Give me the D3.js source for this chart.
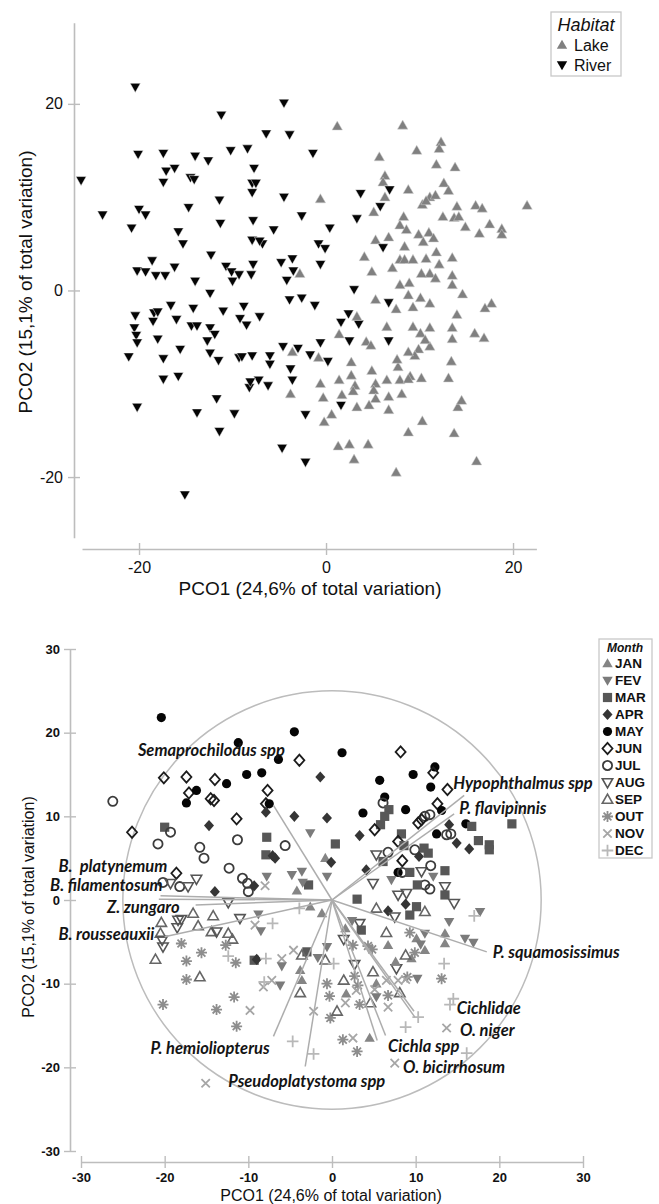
<!DOCTYPE html>
<html><head><meta charset="utf-8">
<script src="https://cdn.jsdelivr.net/npm/d3@7"></script>
<style>body{margin:0;background:#fff}svg{display:block}</style>
</head><body>
<svg id="c" width="659" height="1204"></svg>
<script>
// ---------------- DATA (same samples in both ordinations) ----------------
const pco1 = [
-20.4,-11.2,-4.5,-6.4,-3.9,-1.4,-20.1,-17.4,-14.0,-12.6,
-10.2,-8.4,-17.1,-16.2,-17.4,-14.5,-14.1,-7.7,-7.9,-7.5,
-7.9,-4.5,-0.6,-26.2,-23.9,-20.0,-19.3,-14.7,-11.4,-20.8,
-15.8,-15.3,-11.3,-5.6,-7.8,-7.9,-6.8,-2.6,-18.6,-20.2,
-19.3,-18.2,-17.2,-16.2,-12.3,-10.7,-10.1,-10.0,-9.3,-8.0,
-7.8,-14.0,-12.4,-4.2,-2.8,-4.8,-3.6,-0.8,-0.1,-0.6,
0.4,-7.1,-3.5,1.2,8.2,12.3,12.1,9.7,5.7,11.8,
13.8,6.3,6.1,6.8,3.7,8.8,12.6,13.1,10.3,11.1,
11.7,10.7,6.3,5.8,5.1,3.3,8.3,14.0,16.0,16.7,
12.5,13.7,14.2,21.5,14.9,17.5,16.4,18.8,18.8,5.3,
6.7,6.1,7.9,9.9,11.0,10.4,11.5,8.4,4.1,4.9,
7.9,8.4,7.1,9.3,10.7,11.8,12.1,13.5,11.1,11.7,
13.5,10.2,8.9,3.0,8.6,13.5,14.6,7.9,-16.6,-14.2,
-20.4,-18.4,-18.0,-18.5,-16.0,-11.0,-8.8,-9.2,-8.5,-7.1,
-20.5,-20.3,-20.2,-21.1,-18.0,-15.6,-17.4,-17.4,-15.8,-14.4,
-13.8,-12.4,-11.9,-12.7,-11.5,-12.4,-9.3,-9.0,-7.9,-6.0,
-6.0,-7.2,-8.2,-6.2,-4.6,-3.0,-3.6,-3.8,-3.6,-3.8,
-0.6,-0.8,-20.2,-13.8,-11.7,-9.8,-11.4,-4.7,-2.2,-15.1,
-0.6,-0.3,-2.2,-0.2,-3.9,-2.6,-1.2,-1.7,-8.1,5.3,
6.7,7.5,8.8,10.1,9.3,3.5,3.3,1.6,1.4,6.5,
6.7,9.3,10.1,11.1,11.1,13.5,13.5,15.9,16.9,17.7,
17.0,9.9,7.7,9.0,10.2,13.1,13.4,9.5,1.4,2.7,
3.1,4.9,5.3,6.5,7.9,8.8,5.1,6.7,8.1,1.7,
2.9,5.3,4.6,3.3,1.6,0.6,6.7,10.3,8.8,13.7,
14.1,14.5,1.3,2.5,4.5,3.0,16.1,7.5,0.2,2.7,
11.1,2.4,4.3,4.8,2.5,14.0,10.6,7.6,8.8];
const pco2 = [
21.8,18.8,20.1,16.8,16.7,14.7,14.6,14.7,14.4,13.9,
15.0,15.2,12.8,13.1,11.6,12.1,11.9,13.1,11.5,11.5,
10.5,10.0,9.8,11.8,8.1,8.7,8.1,8.9,9.7,6.7,
6.3,5.0,7.2,6.5,7.5,5.4,5.0,8.0,3.2,2.1,
2.0,1.6,1.6,2.5,3.8,2.6,2.0,1.0,1.7,1.7,
2.8,1.0,-0.3,1.1,1.8,3.0,3.4,5.0,4.5,2.8,
6.7,5.3,2.1,17.6,17.7,15.9,15.2,15.0,14.3,13.5,
13.2,12.3,11.6,10.8,10.4,10.8,11.5,10.7,9.2,10.0,
10.2,9.6,10.0,9.0,8.4,7.7,7.9,9.0,9.1,8.8,
7.9,7.8,7.9,9.1,6.8,7.1,6.1,6.6,6.0,5.4,
5.7,4.6,7.0,6.0,6.2,5.2,5.6,4.7,3.6,2.0,
3.3,3.3,2.4,3.3,3.4,4.1,2.8,3.5,1.8,1.3,
1.6,1.8,0.8,0.1,6.5,0.6,-0.4,0.6,-1.6,-1.9,
-2.7,-2.4,-2.3,-3.3,-3.1,-2.2,-1.7,-3.0,-3.7,-2.8,
-4.0,-4.8,-5.6,-7.1,-5.2,-6.3,-7.3,-9.5,-9.2,-3.8,
-3.8,-4.0,-4.7,-5.4,-7.5,-6.7,-7.2,-7.1,-7.0,-7.0,
-7.9,-9.6,-10.4,-10.2,-6.0,-6.2,-6.6,-8.4,-9.6,-11.1,
-5.6,-7.2,-12.5,-13.1,-11.6,-13.2,-15.1,-16.9,-18.4,-21.9,
-10.0,-11.5,-13.3,-14.1,-1.0,-0.8,-1.6,-6.9,-9.8,-1.0,
-1.3,-2.0,-0.5,-0.8,-1.8,-3.6,-2.8,-3.4,-4.7,-3.9,
-5.4,-3.9,-4.6,-6.0,-4.0,-4.0,-5.2,-4.6,-5.1,-1.4,
-1.9,-6.3,-8.2,-9.2,-9.4,-9.4,-7.6,-7.0,-9.6,-9.1,
-10.2,-8.6,-10.0,-9.6,-9.6,-9.5,-10.7,-11.4,-11.1,-11.2,
-10.8,-11.6,-12.3,-12.5,-12.3,-13.3,-12.8,-14.0,-15.2,-15.3,
-12.5,-11.8,-16.7,-16.5,-16.5,-18.1,-18.3,-19.5,-7.6,-7.7,
-1.4,-2.5,-5.5,-5.9,-5.4,-2.6,-5.3,-7.4,-6.6];
const month = [
"MAY","MAY","MAY","MAY","JUN","APR","JUN","JUN","JUN","MAY",
"MAY","MAY","JUN","MAY","MAY","JUN","JUN","JUN","JUN","MAY",
"APR","APR","APR","JUL","JUN","MAR","JUL","APR","JUN","JUL",
"JUL","JUL","JUL","JUL","MAR","MAR","APR","FEV","JUN","JUL",
"AUG","JUL","AUG","AUG","JUL","JUL","JUL","JUL","APR","NOV",
"FEV","APR","AUG","JAN","MAR","FEV","FEV","JAN","APR","FEV",
"MAR","APR","FEV","MAY","JUN","MAY","JUN","MAY","MAY","MAY",
"JUN","MAY","JUL","MAR","MAY","MAY","JUN","MAY","JUN","JUL",
"JUL","JUN","MAR","MAR","JUN","APR","MAR","APR","MAY","MAR",
"MAY","JUL","JUL","MAR","APR","MAR","APR","MAR","MAR","AUG",
"JUL","MAR","JUN","JUL","MAR","APR","MAR","JUN","APR","AUG",
"MAY","JUL","FEV","MAR","AUG","JUL","FEV","MAR","JUL","JUL",
"AUG","MAR","AUG","MAR","MAR","MAR","AUG","AUG","SEP","SEP",
"SEP","AUG","AUG","AUG","SEP","AUG","FEV","NOV","FEV","DEC",
"SEP","AUG","AUG","SEP","OUT","OUT","OUT","OUT","SEP","SEP",
"AUG","SEP","SEP","OUT","OUT","DEC","MAR","APR","DEC","NOV",
"FEV","NOV","NOV","FEV","NOV","MAR","SEP","JAN","JAN","SEP",
"FEV","SEP","OUT","OUT","OUT","NOV","OUT","DEC","DEC","NOV",
"OUT","OUT","NOV","OUT","DEC","JAN","JAN","FEV","DEC","SEP",
"APR","AUG","APR","MAR","MAR","MAR","AUG","JAN","AUG","SEP",
"JAN","OUT","JAN","JAN","FEV","JAN","JAN","FEV","FEV","FEV",
"DEC","OUT","AUG","OUT","FEV","OUT","DEC","JAN","SEP","OUT",
"OUT","SEP","JAN","NOV","NOV","NOV","NOV","OUT","SEP","JAN",
"NOV","FEV","SEP","OUT","NOV","SEP","NOV","DEC","DEC","NOV",
"DEC","DEC","OUT","NOV","JAN","OUT","DEC","NOV","DEC","AUG",
"SEP","FEV","OUT","OUT","OUT","FEV","FEV","JAN","SEP"];
const habitat = [
"R","R","R","R","R","R","R","R","R","R",
"R","R","R","R","R","R","R","R","R","R",
"R","R","L","R","R","R","R","R","R","R",
"R","R","R","R","R","R","R","R","R","R",
"R","R","R","R","R","R","R","R","R","R",
"R","R","R","R","L","R","R","R","R","R",
"R","R","R","L","L","L","L","L","L","L",
"L","L","L","R","R","L","L","L","L","L",
"L","L","L","R","L","R","L","L","L","L",
"L","L","L","L","L","L","L","L","L","L",
"L","R","L","L","L","L","L","L","L","L",
"L","L","L","L","L","L","L","L","L","L",
"L","L","L","R","L","L","L","L","R","R",
"R","R","R","R","R","R","R","R","R","R",
"R","R","R","R","R","R","R","R","R","R",
"R","R","R","R","R","R","R","R","R","R",
"R","R","R","R","R","R","L","R","R","L",
"R","L","R","R","R","R","R","R","R","R",
"L","L","R","L","R","R","R","R","R","L",
"R","L","L","L","L","R","L","R","L","L",
"R","L","L","L","L","L","L","L","L","L",
"L","L","L","L","L","L","L","L","L","L",
"L","L","L","L","L","L","L","L","L","L",
"L","L","L","L","R","L","L","L","L","L",
"L","L","L","L","L","L","L","L","R","L",
"L","R","L","L","R","L","L","L","L"];

const habitatNames = ["Lake","River"];
const habitatCodes = ["L","R"];
const monthNames = ["JAN","FEV","MAR","APR","MAY","JUN","JUL","AUG","SEP","OUT","NOV","DEC"];

const species = ["Semaprochilodus spp","Hypophthalmus spp","P. flavipinnis","B.  platynemum","B. filamentosum","Z. zungaro","B. rousseauxii","P. squamosissimus","Cichlidae","O. niger","Cichla spp","O. bicirrhosum","P. hemioliopterus","Pseudoplatystoma spp"];
const vecX = [-7.0,15.8,14.6,-20.5,-20.7,-16.3,-20.0,18.5,9.8,9.9,6.4,5.4,-7.0,-3.2];
const vecY = [11.3,12.5,10.3,0.5,0.1,-0.6,-4.4,-6.2,-13.3,-14.0,-16.2,-16.8,-16.3,-19.9];
const labelX = [-23.2,14.5,15.2,-32.7,-33.7,-26.9,-32.7,19.2,14.9,15.3,6.7,8.5,-21.7,-12.4];
const labelY = [17.2,13.3,10.3,3.3,1.1,-1.55,-4.8,-6.9,-13.6,-16.2,-18.2,-20.7,-18.4,-22.3];
const circleRadius = 25;

const topTicks = [-20,0,20];
const botTicks = [-30,-20,-10,0,10,20,30];

// ---------------- DRAWING ----------------
const svg = d3.select("#c");
const AX = "#bdbdbd";
const SANS = "'Liberation Sans', Arial, sans-serif";
const N = Math.min(pco1.length, pco2.length, month.length, habitat.length);
const idx = d3.range(N);
const fmt = d => String(d);   // plain hyphen minus, as in the original

function shapePath(t){
  switch(t){
    case "triUp": return "M0,-5.3L5.2,3.8L-5.2,3.8Z";
    case "triDown": return "M0,5.3L5.2,-3.8L-5.2,-3.8Z";
    case "square": return "M-4.6,-4.6H4.6V4.6H-4.6Z";
    case "diamond": return "M0,-5.6L5,0L0,5.6L-5,0Z";
    case "circle": return "M4.6,0A4.6,4.6 0 1,1 -4.6,0A4.6,4.6 0 1,1 4.6,0Z";
    case "ast": return "M0,-5.5V5.5M-5.5,0H5.5M-3.9,-3.9L3.9,3.9M-3.9,3.9L3.9,-3.9";
    case "times": return "M-4.2,-4.2L4.2,4.2M-4.2,4.2L4.2,-4.2";
    case "plus": return "M-5.8,0H5.8M0,-5.8V5.8";
  }
}
const monthStyle = {
  JAN:{s:"triUp", fill:"#858585", stroke:"none"},
  FEV:{s:"triDown", fill:"#7b7b7b", stroke:"none"},
  MAR:{s:"square", fill:"#575757", stroke:"none"},
  APR:{s:"diamond", fill:"#353535", stroke:"none"},
  MAY:{s:"circle", fill:"#050505", stroke:"none"},
  JUN:{s:"diamond", fill:"none", stroke:"#1c1c1c", w:1.8},
  JUL:{s:"circle", fill:"none", stroke:"#3c3c3c", w:1.8},
  AUG:{s:"triDown", fill:"none", stroke:"#555", w:1.6},
  SEP:{s:"triUp", fill:"none", stroke:"#666", w:1.6},
  OUT:{s:"ast", fill:"none", stroke:"#8d8d8d", w:1.8},
  NOV:{s:"times", fill:"none", stroke:"#a6a6a6", w:1.8},
  DEC:{s:"plus", fill:"none", stroke:"#b8b8b8", w:1.8}
};
const habStyle = {L:{s:"triUp", fill:"#808080"}, R:{s:"triDown", fill:"#050505"}};

function styleAxis(g, dir){
  g.select(".domain").attr("stroke", AX).attr("stroke-width", 1.6);
  g.selectAll(".tick line").attr("stroke", AX).attr("stroke-width", 1.4);
  if(dir==="b") g.selectAll(".tick line").attr("y1",-6).attr("y2",6);
  else g.selectAll(".tick line").attr("x1",6).attr("x2",-6);
}

// ---- TOP PANEL ----
const xT = d3.scaleLinear().domain([-26.1,22.5]).range([82,536.4]);
const yT = d3.scaleLinear().domain([-26.5,28.7]).range([537.7,22.7]);
const gTop = svg.append("g");

const gxT = gTop.append("g").attr("transform","translate(0,549)")
  .call(d3.axisBottom(xT).tickValues(topTicks).tickSize(6).tickSizeOuter(0).tickFormat(fmt));
styleAxis(gxT,"b");
gxT.selectAll(".tick text").attr("y",24).attr("dy",null).attr("font-size",16).attr("font-family",SANS).attr("fill","#111");

const gyT = gTop.append("g").attr("transform","translate(74,0)")
  .call(d3.axisLeft(yT).tickValues(topTicks).tickSize(6).tickSizeOuter(0).tickFormat(fmt));
styleAxis(gyT,"l");
gyT.selectAll(".tick text").attr("x",-11).attr("font-size",16).attr("font-family",SANS).attr("fill","#111");

gTop.append("g").selectAll("path").data(idx).join("path")
  .attr("transform", i=>`translate(${xT(pco1[i])},${yT(pco2[i])})`)
  .attr("d", i=>shapePath(habStyle[habitat[i]].s))
  .attr("fill", i=>habStyle[habitat[i]].fill)
  .attr("stroke", i=> habitat[i]==="L" ? "#d0d0d0" : "#fff").attr("stroke-width",0.5);

gTop.append("text").attr("x",310).attr("y",595).attr("text-anchor","middle")
  .attr("font-family",SANS).attr("font-size",19).attr("fill","#111")
  .text("PCO1 (24,6% of total variation)");
gTop.append("text").attr("transform","translate(32,282) rotate(-90)").attr("text-anchor","middle")
  .attr("font-family",SANS).attr("font-size",19).attr("fill","#111")
  .text("PCO2 (15,1% of total variation)");

// top legend
const lgT = gTop.append("g");
lgT.append("rect").attr("x",551).attr("y",12).attr("width",70).attr("height",64)
  .attr("fill","#fff").attr("stroke","#c8c8c8").attr("stroke-width",1.3);
lgT.append("text").attr("x",586).attr("y",30.5).attr("text-anchor","middle")
  .attr("font-family",SANS).attr("font-style","italic").attr("font-size",18).attr("fill","#111").text("Habitat");
habitatCodes.forEach((h,k)=>{
  const cy = 45 + 20*k;
  lgT.append("path").attr("transform",`translate(562,${cy})`).attr("d",shapePath(habStyle[h].s)).attr("fill",habStyle[h].fill);
  lgT.append("text").attr("x",574).attr("y",cy+5.8).attr("font-family",SANS).attr("font-size",16).attr("fill","#111").text(habitatNames[k]);
});

// ---- BOTTOM PANEL ----
const xB = d3.scaleLinear().domain([-30,30]).range([81,583]);
const yB = d3.scaleLinear().domain([-30,30]).range([1151,649]);
const gBot = svg.append("g");

const gxB = gBot.append("g").attr("transform","translate(0,1162)")
  .call(d3.axisBottom(xB).tickValues(botTicks).tickSize(6).tickSizeOuter(0).tickFormat(fmt));
styleAxis(gxB,"b");
gxB.selectAll(".tick text").attr("y",20).attr("dy",null).attr("font-size",13).attr("font-weight","bold").attr("font-family",SANS).attr("fill","#111");
const gyB = gBot.append("g").attr("transform","translate(70,0)")
  .call(d3.axisLeft(yB).tickValues(botTicks).tickSize(6).tickSizeOuter(0).tickFormat(fmt));
styleAxis(gyB,"l");
gyB.selectAll(".tick text").attr("x",-10).attr("font-size",13).attr("font-weight","bold").attr("font-family",SANS).attr("fill","#111");

gBot.append("circle").attr("cx",xB(0)).attr("cy",yB(0)).attr("r",xB(circleRadius)-xB(0))
  .attr("fill","none").attr("stroke","#bcbcbc").attr("stroke-width",1.5);

gBot.append("g").selectAll("path").data(idx).join("path")
  .attr("transform", i=>`translate(${xB(pco1[i])},${yB(pco2[i])})`)
  .attr("d", i=>shapePath(monthStyle[month[i]].s))
  .attr("fill", i=>monthStyle[month[i]].fill)
  .attr("stroke", i=>monthStyle[month[i]].stroke)
  .attr("stroke-width", i=>monthStyle[month[i]].w||0);

gBot.append("g").selectAll("line").data(species).join("line")
  .attr("x1",xB(0)).attr("y1",yB(0))
  .attr("x2",(d,i)=>xB(vecX[i])).attr("y2",(d,i)=>yB(vecY[i]))
  .attr("stroke","#adadad").attr("stroke-width",1.5);

gBot.append("g").selectAll("text").data(species).join("text")
  .attr("x",(d,i)=>xB(labelX[i])).attr("y",(d,i)=>yB(labelY[i]))
  .attr("font-family","Lato, 'Open Sans', sans-serif").attr("font-style","italic").attr("font-weight",700)
  .attr("font-size",16.5).attr("fill","#141414").style("white-space","pre")
  .text(d=>d);

gBot.append("text").attr("x",331).attr("y",1201).attr("text-anchor","middle")
  .attr("font-family",SANS).attr("font-size",16).attr("fill","#111")
  .text("PCO1 (24,6% of total variation)");
gBot.append("text").attr("transform","translate(34,907) rotate(-90)").attr("text-anchor","middle")
  .attr("font-family",SANS).attr("font-size",16).attr("fill","#111")
  .text("PCO2 (15,1% of total variation)");

// bottom legend
const lgB = gBot.append("g");
lgB.append("rect").attr("x",599).attr("y",639).attr("width",53).attr("height",219)
  .attr("fill","#fff").attr("stroke","#c8c8c8").attr("stroke-width",1.3);
lgB.append("text").attr("x",625).attr("y",651.5).attr("text-anchor","middle")
  .attr("font-family",SANS).attr("font-style","italic").attr("font-weight","bold").attr("font-size",12).attr("fill","#111").text("Month");
monthNames.forEach((m,k)=>{
  const cy = 663.5 + 17*k, st = monthStyle[m];
  lgB.append("path").attr("transform",`translate(607.5,${cy})`).attr("d",shapePath(st.s))
    .attr("fill",st.fill).attr("stroke",st.stroke).attr("stroke-width",st.w||0);
  lgB.append("text").attr("x",615).attr("y",cy+4.8).attr("font-family",SANS).attr("font-weight","bold")
    .attr("font-size",13.5).attr("fill","#111").text(m);
});
</script>
</body></html>
